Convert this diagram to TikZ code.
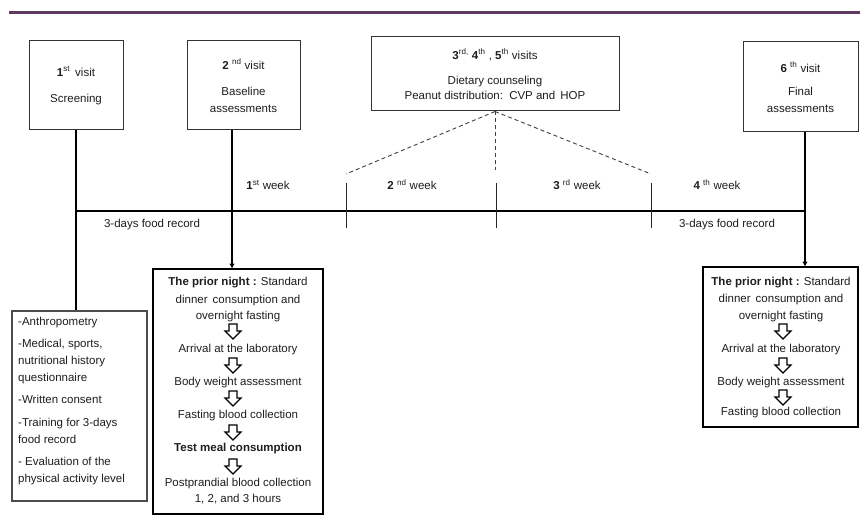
\documentclass[tikz,border=0pt]{standalone}
\usepackage{fontspec}
\setmainfont{Liberation Sans}
\usetikzlibrary{arrows.meta}
\definecolor{topline}{HTML}{5E3A60}
\definecolor{ink}{HTML}{1E1E1E}
\begin{document}
\begin{tikzpicture}[x=1pt,y=-1pt,
  every node/.style={font=\fontsize{11.5}{17}\selectfont, text=ink},
  visitbox/.style={draw=black!80, line width=1pt, align=center, inner sep=0pt},
  listbox/.style={draw=black!70, line width=1.4pt, inner sep=0pt},
  procbox/.style={draw=black, line width=1.5pt, inner sep=0pt},
  txt/.style={inner sep=0pt, text height=8.5pt, text depth=2.5pt},
  ltxt/.style={txt, anchor=west},
  conn/.style={line width=1.4pt, draw=black},
  connarrow/.style={conn, -{Triangle[length=4.5pt,width=4.5pt]}},
  wktick/.style={line width=0.9pt, draw=black!85},
  dashline/.style={dash pattern=on 4pt off 3pt, line width=0.9pt, draw=black!75},
  hdown/.pic={\draw[line width=1.1pt, fill=white] (-4,-7) -- (4,-7) -- (4,0) -- (8,0) -- (0,8) -- (-8,0) -- (-4,0) -- cycle;}
]
\useasboundingbox (0,0) rectangle (860,529);
\fill[white] (0,0) rectangle (860,529);

% top rule
\draw[topline, line width=3pt] (9,13) -- (860,13);

% visit boxes
\node[visitbox, minimum width=94pt, minimum height=89pt] (v1) at (76,85.5)
  {\textbf{1}\textsuperscript{st}\, visit\\[9pt]Screening};
\node[visitbox, minimum width=113pt, minimum height=89pt] (v2) at (243.5,85.5)
  {\textbf{2} \textsuperscript{nd} visit\\[9pt]Baseline\\assessments};
\node[visitbox, minimum width=248pt, minimum height=74pt] (v3) at (495,74)
  {\textbf{3}\textsuperscript{rd,} \textbf{4}\textsuperscript{th} , \textbf{5}\textsuperscript{th} visits\\[8pt]Dietary counseling\\[-2pt]Peanut distribution:\, CVP and\, HOP};
\node[visitbox, minimum width=115pt, minimum height=90pt] (v6) at (800.5,87)
  {\textbf{6} \textsuperscript{th} visit\\[6pt]Final\\assessments};

% lower boxes
\node[listbox, minimum width=135pt, minimum height=190pt] (list) at (79.5,406) {};
\node[procbox, minimum width=170pt, minimum height=245pt] (proc1) at (238,391.5) {};
\node[procbox, minimum width=155pt, minimum height=160pt] (proc2) at (780.5,347) {};

% connector anchor points
\coordinate (s2) at (232,130);
\coordinate (s6) at (805,132);
\coordinate (tly) at (0,211);
\coordinate (d1) at (346,174);
\coordinate (d2) at (495,170);
\coordinate (d3) at (651,174);
\coordinate (k1) at (346,183);
\coordinate (k2) at (496,183);
\coordinate (k3) at (651,183);

% timeline and connectors
\draw[conn] (v1.south) -- (v1.south |- list.north);
\draw[conn, line width=1.2pt] (v1.south |- tly) -- (s6 |- tly);
\draw[connarrow] (s2) -- (s2 |- proc1.north);
\draw[connarrow] (s6) -- (s6 |- proc2.north);

% week ticks
\draw[wktick] (k1) -- ++(0,45);
\draw[wktick] (k2) -- ++(0,45);
\draw[wktick] (k3) -- ++(0,45);

% dashed links from counseling box
\draw[dashline] (v3.south) -- (d1);
\draw[dashline] (v3.south) -- (d2);
\draw[dashline] (v3.south) -- (d3);

% week labels
\node[txt] (w1) at (268,187) {\textbf{1}\textsuperscript{st} week};
\node[txt] (w2) at (412,187) {\textbf{2} \textsuperscript{nd} week};
\node[txt] (w3) at (577,187) {\textbf{3} \textsuperscript{rd} week};
\node[txt] (w4) at (717,187) {\textbf{4} \textsuperscript{th} week};
\node[txt] (f1) at (152,225) {3-days food record};
\node[txt] (f2) at (727,225) {3-days food record};

% left list
\node[ltxt] (l1) at (18,323) {-Anthropometry};
\node[ltxt] (l2) at (18,345) {-Medical, sports,};
\node[ltxt] (l3) at (18,362) {nutritional history};
\node[ltxt] (l4) at (18,379) {questionnaire};
\node[ltxt] (l5) at (18,400) {-Written consent};
\node[ltxt] (l6) at (18,423) {-Training for 3-days};
\node[ltxt] (l7) at (18,440) {food record};
\node[ltxt] (l8) at (18,462) {- Evaluation of the};
\node[ltxt] (l9) at (18,479) {physical activity level};

% baseline procedure
\node[txt] (a1) at (238,283) {\textbf{The prior night :} Standard};
\node[txt] (a2) at (238,301) {dinner\, consumption and};
\node[txt] (a3) at (238,317) {overnight fasting};
\pic at (233,331) {hdown};
\node[txt] (a4) at (238,350) {Arrival at the laboratory};
\pic at (233,365) {hdown};
\node[txt] (a5) at (238,383) {Body weight assessment};
\pic at (233,398) {hdown};
\node[txt] (a6) at (238,415) {Fasting blood collection};
\pic at (233,432) {hdown};
\node[txt] (a7) at (238,448) {\textbf{Test meal consumption}};
\pic at (233,466) {hdown};
\node[txt] (a8) at (238,483) {Postprandial blood collection};
\node[txt] (a9) at (238,499) {1, 2, and 3 hours};

% final procedure
\node[txt] (b1) at (781,283) {\textbf{The prior night :} Standard};
\node[txt] (b2) at (781,300) {dinner\, consumption and};
\node[txt] (b3) at (781,317) {overnight fasting};
\pic at (783,331) {hdown};
\node[txt] (b4) at (781,350) {Arrival at the laboratory};
\pic at (783,365) {hdown};
\node[txt] (b5) at (781,382) {Body weight assessment};
\pic at (783,397) {hdown};
\node[txt] (b6) at (781,413) {Fasting blood collection};
\end{tikzpicture}
\end{document}
